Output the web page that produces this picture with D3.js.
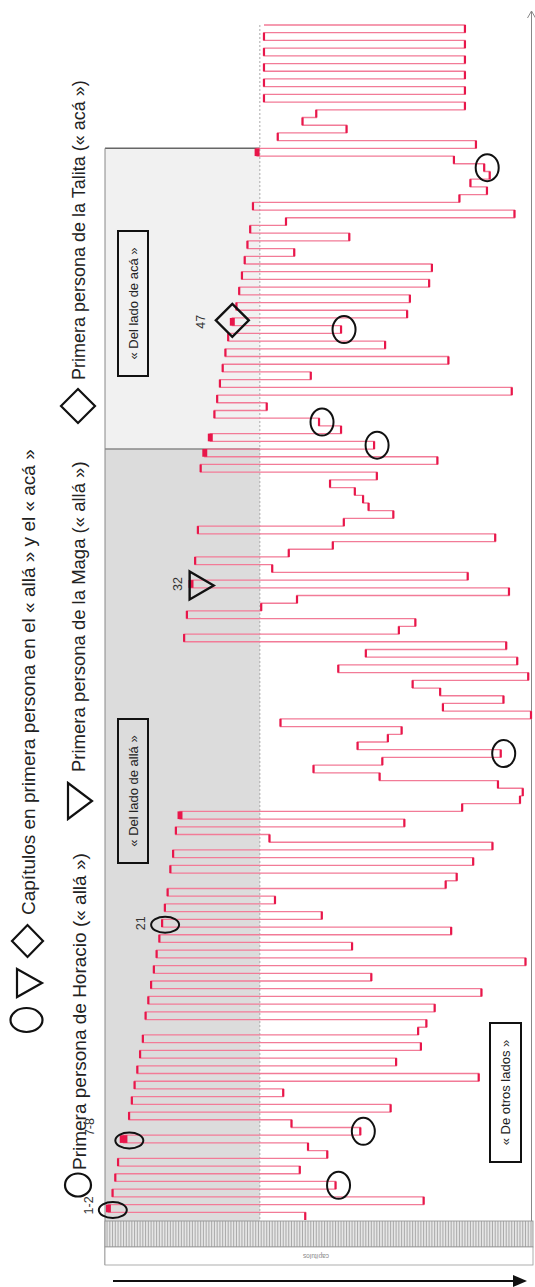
<!DOCTYPE html>
<html>
<head>
<meta charset="utf-8">
<script src="https://cdn.jsdelivr.net/npm/d3@7"></script>
<style>
  body { margin: 0; background: #fff; }
  svg { display: block; }
  text { font-family: "Liberation Sans", Arial, Helvetica, sans-serif; fill: #222; }
</style>
</head>
<body>
<svg id="chart" width="535" height="1287"></svg>
<script>
// reading order of Rayuela (tablero de direccion), one entry per reading block
// consecutive chapters read in a row are one block ("6-8")
var readingOrder = [
  "73","1-2","116","3","84","4","71","5","81","74",
  "6-8","93","68","9","104","10","65","11","136","12",
  "106","13","115","14","114","117","15","120","16","137",
  "17","97","18","153","19","90","20","126","21","79",
  "22","62","23","124","128","24","134","25","141","60",
  "26","109","27-28","130","151","152","143","100","76","101",
  "144","92","103","108","64","155","123","145","122","112",
  "154","85","150","95","146","29","107","113","30","57",
  "70","147","31-32","132","61","33","67","83","142","34",
  "87","105","96","94","91","82","99","35","121","36-37",
  "98","38-39","86","78","40","59","41","148","42","75",
  "43","125","44","102","45","86","46-47","110","48","111",
  "49","118","50","119","51","69","52","89","53","66",
  "149","54","129","139","133","140","138","127","55-56","135",
  "63","88","72","77","131","58","131","58","131","58",
  "131","58","131","58","131","58"
];

// reading positions (1-based) of first person chapters
var horacioLeft = [2, 11, 39];                       // 1-2, 7-8, 21
var horacioRight = [5, 12, 61, 101, 104, 116, 137];  // 84, 93, 144, 98, 78, 86, 138
var magaPos = [83];                                   // 31-32
var talitaPos = [117];                                // 46-47
var markLabels = [["1-2", 2], ["7-8", 11], ["21", 39], ["32", 83], ["47", 117]];

var partNames = ["« Del lado de allá »", "« Del lado de acá »", "« De otros lados »"];
var legendTitle = "Capítulos en primera persona en el « allá » y el « acá »";
var legendItems = ["Primera persona de Horacio (« allá »)",
                   "Primera persona de la Maga (« allá »)",
                   "Primera persona de la Talita (« acá »)"];

var svg = d3.select("#chart");

var blocks = readingOrder.map(function(s, i) {
  var p = s.split("-").map(Number);
  return {i: i + 1, a: p[0], b: p[p.length - 1]};
});
var N = blocks.length;

var x = d3.scaleLinear().domain([0, 155]).range([104.3, 531]);
var y = d3.scaleLinear().domain([1, N]).range([1220, 25]);

var left = 105, right = 531.5, mid = x(56.5), top = 12, bottom = 1221;
var yAlla = y(101), yAca = y(140);   // ends of 36-37 and 55-56 blocks

function vtext(g, tx, ty, txt, size, anchor) {
  return g.append("text")
    .attr("transform", "translate(" + tx + "," + ty + ") rotate(-90)")
    .attr("text-anchor", anchor || "start")
    .attr("dy", "0.35em")
    .attr("font-size", size)
    .text(txt);
}

// backgrounds
svg.append("rect").attr("x", left).attr("y", top).attr("width", right - left)
  .attr("height", bottom - top).attr("fill", "#fbfbfb");
svg.append("rect").attr("x", left).attr("y", yAlla).attr("width", mid - left)
  .attr("height", bottom - yAlla).attr("fill", "#dcdcdc");
svg.append("rect").attr("x", left).attr("y", yAca).attr("width", mid - left)
  .attr("height", yAlla - yAca).attr("fill", "#f1f1f1");

svg.append("line").attr("x1", left).attr("x2", mid).attr("y1", yAca).attr("y2", yAca)
  .attr("stroke", "#666").attr("stroke-width", 1.5);
svg.append("line").attr("x1", left).attr("x2", mid).attr("y1", yAlla).attr("y2", yAlla)
  .attr("stroke", "#888").attr("stroke-width", 1.5);
svg.append("line").attr("x1", left).attr("x2", left).attr("y1", yAca).attr("y2", 1265)
  .attr("stroke", "#888").attr("stroke-width", 1);
svg.append("line").attr("x1", mid).attr("x2", mid).attr("y1", y(N)).attr("y2", bottom)
  .attr("stroke", "#aaa").attr("stroke-width", 1).attr("stroke-dasharray", "2,2");

// chapter strip
svg.append("rect").attr("x", left).attr("y", bottom).attr("width", 533 - left)
  .attr("height", 26).attr("fill", "#e6e6e6").attr("stroke", "#888").attr("stroke-width", 0.8);
svg.append("g").selectAll("line").data(d3.range(1, 156)).join("line")
  .attr("x1", function(d) { return x(d); }).attr("x2", function(d) { return x(d); })
  .attr("y1", bottom).attr("y2", bottom + 26)
  .attr("stroke", "#999").attr("stroke-width", 0.8);
svg.append("rect").attr("x", left).attr("y", bottom + 26).attr("width", 533 - left)
  .attr("height", 18).attr("fill", "#fff").attr("stroke", "#999").attr("stroke-width", 0.8);
svg.append("text").attr("transform", "translate(316,1256) rotate(180)")
  .attr("text-anchor", "middle").attr("dy", "0.35em").attr("font-size", 6.5)
  .style("fill", "#888").text("capítulos");

// right axis arrow
svg.append("line").attr("x1", right).attr("x2", right).attr("y1", bottom).attr("y2", 11)
  .attr("stroke", "#888").attr("stroke-width", 1);
svg.append("path").attr("d", "M527.5,18 L531.5,11 L535.5,18")
  .attr("fill", "none").attr("stroke", "#888").attr("stroke-width", 1);

// bottom arrow
svg.append("line").attr("x1", 113).attr("x2", 516).attr("y1", 1281).attr("y2", 1281)
  .attr("stroke", "#111").attr("stroke-width", 2.2);
svg.append("path").attr("d", "M513,1275 L527,1281 L513,1287 Z").attr("fill", "#111");

// reading path
var line = d3.line()
  .x(function(d) { return x((d.a + d.b) / 2); })
  .y(function(d) { return y(d.i); })
  .curve(d3.curveStepBefore);
svg.append("path").datum(blocks).attr("d", line)
  .attr("fill", "none").attr("stroke", "#f27b97").attr("stroke-width", 1.3);

svg.append("g").selectAll("rect").data(blocks.slice(0, N - 1)).join("rect")
  .attr("x", function(d) { return x(d.a) - 1.1; })
  .attr("width", function(d) { return x(d.b) - x(d.a) + 2.2; })
  .attr("y", function(d) { return y(d.i + 1); })
  .attr("height", function(d) { return y(d.i) - y(d.i + 1); })
  .attr("fill", "#e8164a");

// part boxes
function partBox(x0, y0, w, h, label) {
  svg.append("rect").attr("x", x0).attr("y", y0).attr("width", w).attr("height", h)
    .attr("fill", "none").attr("stroke", "#111").attr("stroke-width", 2);
  vtext(svg, x0 + w / 2, y0 + h / 2, label, 13, "middle");
}
partBox(118, 719, 30, 144, partNames[0]);
partBox(118, 231, 30, 145, partNames[1]);
partBox(490, 1023, 31, 139, partNames[2]);

// first person markers
var mk = svg.append("g").attr("fill", "none").attr("stroke", "#111").attr("stroke-width", 2);
function midY(k) { return (y(k) + y(k + 1)) / 2; }
horacioLeft.forEach(function(k) {
  var b = blocks[k - 1];
  mk.append("ellipse").attr("cx", x(b.b) + 3).attr("cy", midY(k) + 1.5)
    .attr("rx", 14).attr("ry", 8);
});
horacioRight.forEach(function(k) {
  var b = blocks[k - 1];
  mk.append("ellipse").attr("cx", x(b.b) + 3).attr("cy", midY(k))
    .attr("rx", 11.5).attr("ry", 13.5);
});
magaPos.forEach(function(k) {
  var b = blocks[k - 1], bx = x(b.a), cy = midY(k) + 1.5;
  mk.append("path").attr("d", "M" + bx + "," + (cy - 14) + " L" + (bx + 24) + "," + cy +
    " L" + bx + "," + (cy + 14) + " Z").attr("stroke-width", 2.4);
});
talitaPos.forEach(function(k) {
  var b = blocks[k - 1], cx = x((b.a + b.b) / 2), cy = midY(k) - 1.5;
  mk.append("path").attr("d", "M" + (cx - 16.5) + "," + cy + " L" + cx + "," + (cy - 16.5) +
    " L" + (cx + 16.5) + "," + cy + " L" + cx + "," + (cy + 16.5) + " Z").attr("stroke-width", 2.4);
});

// marker labels
var labelOffset = {"1-2": [-18, -3], "7-8": [-31, -12], "21": [-21, 0], "32": [-12, 0], "47": [-30, 0]};
markLabels.forEach(function(m) {
  var b = blocks[m[1] - 1];
  var o = labelOffset[m[0]];
  vtext(svg, x(b.a) + o[0], midY(m[1]) + o[1], m[0], 12.5, "middle").style("fill", "#333");
});

// legend
var lg = svg.append("g");
var ls = lg.append("g").attr("fill", "none").attr("stroke", "#111").attr("stroke-width", 2.2);
ls.append("ellipse").attr("cx", 26.5).attr("cy", 1020).attr("rx", 16).attr("ry", 12);
ls.append("path").attr("d", "M17,969 L42,983 L17,997 Z");
ls.append("path").attr("d", "M12,941 L27.5,925 L43,941 L27.5,957 Z");
vtext(lg, 28, 915, legendTitle, 19);

ls.append("ellipse").attr("cx", 78).attr("cy", 1185).attr("rx", 13).attr("ry", 11.5);
vtext(lg, 79, 1170, legendItems[0], 19);
ls.append("path").attr("d", "M68,783 L92,801 L68,819 Z");
vtext(lg, 79, 772, legendItems[1], 18.5);
ls.append("path").attr("d", "M61,406 L78,389 L95,406 L78,423 Z");
vtext(lg, 79, 380, legendItems[2], 18);
</script>
</body>
</html>
